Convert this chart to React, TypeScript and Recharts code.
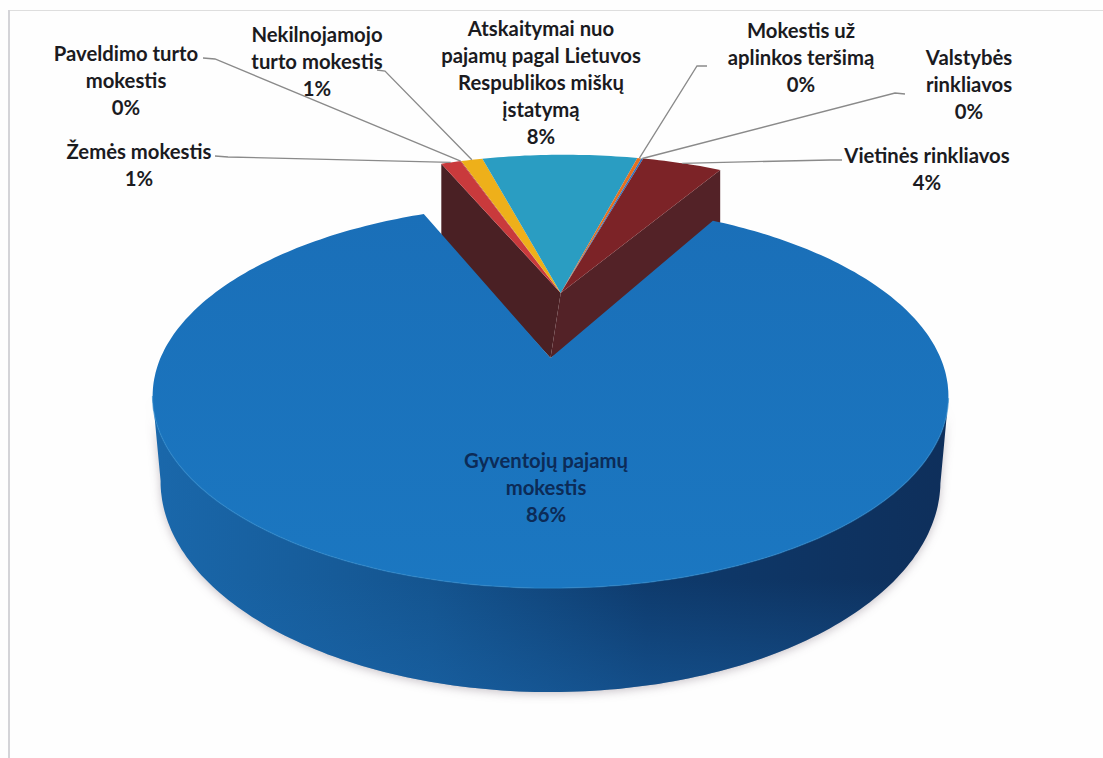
import { Cell, Pie, PieChart } from 'recharts';

const WIDTH = 1103;
const HEIGHT = 758;

// order runs clockwise from the left edge of the notch
const categories = [
  'Žemės mokestis',
  'Paveldimo turto mokestis',
  'Nekilnojamojo turto mokestis',
  'Atskaitymai nuo pajamų pagal Lietuvos Respublikos miškų įstatymą',
  'Mokestis už aplinkos teršimą',
  'Valstybės rinkliavos',
  'Vietinės rinkliavos',
  'Gyventojų pajamų mokestis',
];
const shares = [1.0, 0.05, 1.1, 7.9, 0.2, 0.1, 4.05, 85.6];
const topColors = ['#c93a3c', '#b0352f', '#eeb01a', '#2a9dc2', '#e5701f', '#2b74c4', '#7c2327', 'url(#blueTop)'];

const labelLines = [
  ['Žemės mokestis'],
  ['Paveldimo turto', 'mokestis'],
  ['Nekilnojamojo', 'turto mokestis'],
  ['Atskaitymai nuo', 'pajamų pagal Lietuvos', 'Respublikos miškų', 'įstatymą'],
  ['Mokestis už', 'aplinkos teršimą'],
  ['Valstybės', 'rinkliavos'],
  ['Vietinės rinkliavos'],
  ['Gyventojų pajamų', 'mokestis'],
];

// label centre x, first line y, leader elbow [x, y] and where the leader starts
const labelBox = [
  { x: 139, y: 151, elbow: [228, 157], from: [215, 156] },
  { x: 126, y: 53, elbow: [215, 59], from: [203, 58] },
  { x: 317, y: 34, elbow: [385, 71], from: [377, 70] },
  { x: 541, y: 28 },
  { x: 801, y: 30, elbow: [697, 66], from: [707, 66] },
  { x: 969, y: 57, elbow: [895, 93], from: [905, 94] },
  { x: 927, y: 155, elbow: [830, 160], from: [842, 160] },
  { x: 546, y: 460 },
];

const data = categories.map((name, i) => ({ name, value: shares[i] }));

// perspective of the pie plane
const X0 = 550.5;
const Y0 = 358;
const SX = 390;
const SY = 184.5;
const K = 0.198;
// exploded group of small slices
const GROUP_DU = 0.042;
const GROUP_APEX_DU = 0.028;
const GROUP_DV = -0.379;
const GROUP_R = 1.03;
// the base of the pie is a little narrower than its top
const BASE_NARROW = 0.98;

const project = (u: number, v: number) => {
  const w = 1 + K * -v;
  return { x: X0 + (SX * u) / w, y: Y0 + (SY * v) / w, w };
};

const rad = (a: number) => (a * Math.PI) / 180;

const arcPoint = (a: number, grouped: boolean) => {
  const r = grouped ? GROUP_R : 1;
  const du = grouped ? GROUP_DU : 0;
  const dv = grouped ? GROUP_DV : 0;
  return project(du + r * Math.cos(rad(a)), dv - r * Math.sin(rad(a)));
};

const arcPoints = (start: number, end: number, grouped: boolean) => {
  const n = Math.max(2, Math.ceil(Math.abs(end - start)));
  const pts = [];
  for (let i = 0; i <= n; i++) pts.push(arcPoint(start + ((end - start) * i) / n, grouped));
  return pts;
};

const toPath = (pts: { x: number; y: number }[]) =>
  pts.map((p, i) => `${i ? 'L' : 'M'}${p.x.toFixed(1)} ${p.y.toFixed(1)}`).join(' ');

const wallDepth = (w: number) => 104 * Math.pow(0.802 / w, 1.1);

function Slice(props: any) {
  const { name, startAngle, endAngle, fill } = props;
  const idx = categories.indexOf(name);
  const isBig = idx === categories.length - 1;

  if (isBig) {
    const apex = project(0, 0);
    const rim = arcPoints(startAngle, endAngle, false);
    const front = rim.filter((p) => p.y > 395);
    const lower = front
      .map((p) => ({ x: X0 + (p.x - X0) * BASE_NARROW, y: p.y + wallDepth(p.w) }))
      .reverse();
    const wall = toPath([...front, ...lower]) + ' Z';
    return (
      <g>
        <path d={wall} fill="url(#blueSide)" style={{ filter: 'drop-shadow(0 2px 5px rgba(60,40,60,0.28))' }} />
        <path d={wall} fill="url(#blueSideGlow)" />
        <path d={toPath([apex, ...rim]) + ' Z'} fill={fill} />
        <path d={toPath(front)} fill="none" stroke="#2a86ca" strokeWidth={1.5} opacity={0.6} />
      </g>
    );
  }

  const apex = project(GROUP_APEX_DU, GROUP_DV);
  const rim = arcPoints(startAngle, endAngle, true);
  const base = project(0, 0);
  const first = rim[0];
  const last = rim[rim.length - 1];
  return (
    <g>
      {idx === 0 && (
        <path d={toPath([first, apex, base, { x: first.x, y: first.y + 75 }]) + ' Z'} fill="#4a2024" />
      )}
      {idx === categories.length - 2 && (
        <path d={toPath([last, apex, base, { x: last.x, y: last.y + 75 }]) + ' Z'} fill="#532227" />
      )}
      <path d={toPath([apex, ...rim]) + ' Z'} fill={fill} />
    </g>
  );
}

function SliceLabel(props: any) {
  const { index, startAngle, endAngle, value } = props;
  const box = labelBox[index];
  const isBig = index === categories.length - 1;
  const lines = [...labelLines[index], `${Math.round(value)}%`];
  const lineGap = 27;
  const target = arcPoint((startAngle + endAngle) / 2, true);
  return (
    <g>
      {box.from && (
        <path
          d={`M${box.from[0]} ${box.from[1]} L${box.elbow[0]} ${box.elbow[1]} L${target.x.toFixed(1)} ${target.y.toFixed(1)}`}
          fill="none"
          stroke="#8a8a8a"
          strokeWidth={1.3}
        />
      )}
      <text
        x={box.x}
        y={box.y}
        textAnchor="middle"
        dominantBaseline="central"
        fontFamily="Lato, 'Open Sans', sans-serif"
        fontWeight={700}
        fontSize={20.3}
        fill={isBig ? '#0c2b57' : '#1b1b1f'}
      >
        {lines.map((t, i) => (
          <tspan key={i} x={box.x} y={box.y + i * lineGap}>
            {t}
          </tspan>
        ))}
      </text>
    </g>
  );
}

export default function App() {
  return (
    <div style={{ position: 'absolute', left: 0, top: 0, width: WIDTH, height: HEIGHT, background: '#fefefe' }}>
      <div style={{ position: 'absolute', left: 8, right: 0, top: 10, borderTop: '1px solid #dedede' }} />
      <div style={{ position: 'absolute', left: 8, bottom: 0, top: 10, borderLeft: '2px solid #d4d4d8' }} />
      <PieChart width={WIDTH} height={HEIGHT} margin={{ top: 0, right: 0, bottom: 0, left: 0 }}>
        <defs>
          <linearGradient id="blueTop" x1="0" y1="0" x2="0" y2="1">
            <stop offset="0%" stopColor="#1a6fb8" />
            <stop offset="100%" stopColor="#1b77c1" />
          </linearGradient>
          <linearGradient id="blueSide" x1="0" y1="0" x2="1" y2="0">
            <stop offset="0%" stopColor="#1a68ab" />
            <stop offset="35%" stopColor="#14548f" />
            <stop offset="62%" stopColor="#0e3a6c" />
            <stop offset="100%" stopColor="#0e2f5b" />
          </linearGradient>
          <linearGradient id="blueSideGlow" x1="0" y1="0" x2="0" y2="1">
            <stop offset="62%" stopColor="#1c6cb4" stopOpacity={0} />
            <stop offset="100%" stopColor="#1c6cb4" stopOpacity={0.4} />
          </linearGradient>
        </defs>
        <Pie
          data={data}
          dataKey="value"
          nameKey="name"
          cx={X0}
          cy={Y0}
          outerRadius={SX}
          startAngle={112.6}
          endAngle={112.6 - 360}
          stroke="none"
          isAnimationActive={false}
          shape={Slice}
          label={SliceLabel}
          labelLine={false}
        >
          {data.map((d, i) => (
            <Cell key={d.name} fill={topColors[i]} />
          ))}
        </Pie>
      </PieChart>
    </div>
  );
}
